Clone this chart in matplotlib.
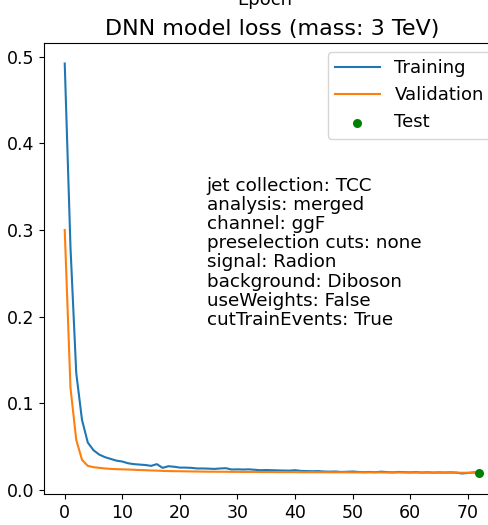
import matplotlib
matplotlib.use("Agg")
import matplotlib.pyplot as plt
import numpy as np

# Per-epoch loss values
train_loss = [
    0.492, 0.280, 0.135, 0.081, 0.055, 0.046, 0.041, 0.038, 0.036, 0.034,
    0.033, 0.031, 0.030, 0.0295, 0.029, 0.028, 0.030, 0.0257, 0.0276, 0.027,
    0.026, 0.026, 0.0257, 0.025, 0.025, 0.0248, 0.0245, 0.025, 0.0253, 0.0238,
    0.024, 0.0238, 0.024, 0.0235, 0.023, 0.0232, 0.023, 0.0228, 0.0226, 0.0225,
    0.023, 0.0222, 0.022, 0.0218, 0.022, 0.0215, 0.0213, 0.0215, 0.021, 0.0212,
    0.0215, 0.021, 0.0208, 0.021, 0.0207, 0.0213, 0.0208, 0.0205, 0.021, 0.0207,
    0.0205, 0.0208, 0.0203, 0.0206, 0.0202, 0.0205, 0.0203, 0.0205, 0.0202, 0.0192,
    0.0198, 0.0205, 0.0202,
]
val_loss = [
    0.300, 0.118, 0.058, 0.035, 0.028, 0.0265, 0.0257, 0.025, 0.0245, 0.0242,
    0.024, 0.0238, 0.0235, 0.0232, 0.023, 0.0227, 0.0225, 0.0222, 0.022, 0.0219,
    0.0218, 0.0217, 0.0216, 0.0215, 0.0214, 0.0213, 0.0213, 0.0212, 0.0212, 0.0211,
    0.0211, 0.021, 0.021, 0.021, 0.0209, 0.0209, 0.0209, 0.0208, 0.0208, 0.0208,
    0.0208, 0.0207, 0.0207, 0.0207, 0.0207, 0.0206, 0.0206, 0.0206, 0.0206, 0.0206,
    0.0205, 0.0205, 0.0205, 0.0205, 0.0205, 0.0204, 0.0204, 0.0204, 0.0204, 0.0204,
    0.0203, 0.0203, 0.0203, 0.0203, 0.0203, 0.0202, 0.0202, 0.0202, 0.0202, 0.0201,
    0.0201, 0.0201, 0.0201,
]
test_epoch = 72
test_loss = 0.0195

info_lines = [
    "jet collection: TCC",
    "analysis: merged",
    "channel: ggF",
    "preselection cuts: none",
    "signal: Radion",
    "background: Diboson",
    "useWeights: False",
    "cutTrainEvents: True",
]

epochs = np.arange(len(train_loss))

fig = plt.figure(figsize=(4.88, 5.25), dpi=100)
ax = fig.add_axes([44 / 488, 31 / 525, 456 / 488, 451 / 525])

ax.plot(epochs, train_loss, color="tab:blue", lw=1.5, label="Training")
ax.plot(epochs, val_loss, color="tab:orange", lw=1.5, label="Validation")
ax.scatter([test_epoch], [test_loss], color="green", s=30, zorder=3, label="Test")

ax.set_title("DNN model loss (mass: 3 TeV)", fontsize=16)
ax.set_xlabel("Epoch", fontsize=13)
ax.tick_params(labelsize=12.5)
ax.set_xticks([0, 10, 20, 30, 40, 50, 60, 70])
ax.set_yticks([0.0, 0.1, 0.2, 0.3, 0.4, 0.5])

ax.legend(loc="upper right", fontsize=13, handlelength=2.5)
ax.text(0.357, 0.703, "\n".join(info_lines), transform=ax.transAxes,
        ha="left", va="top", fontsize=13.2, linespacing=1.08)

# x-axis label of the panel above
fig.text(265 / 488, 1 - 5 / 525, "Epoch", ha="center", va="baseline", fontsize=13)

fig.savefig("out.png", dpi=100)
